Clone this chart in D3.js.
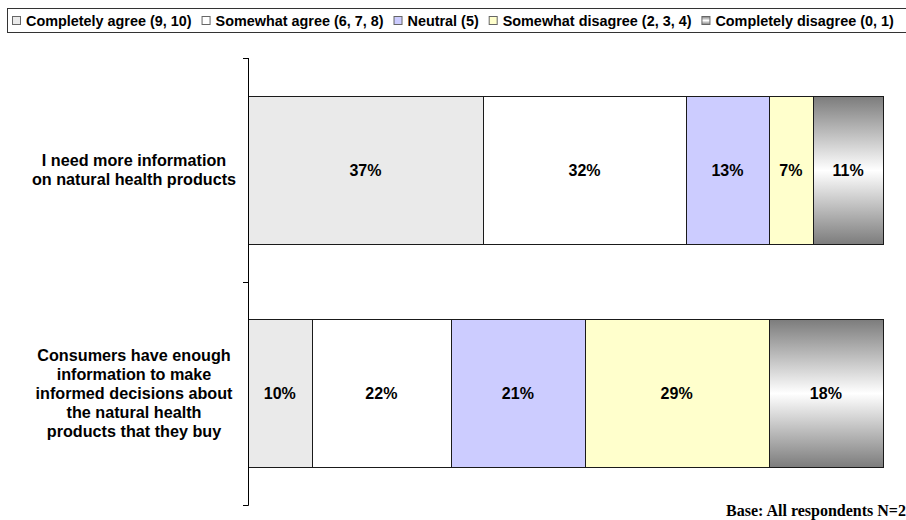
<!DOCTYPE html>
<html>
<head>
<meta charset="utf-8">
<script src="https://cdn.jsdelivr.net/npm/d3@7"></script>
<style>
  html, body { margin: 0; padding: 0; background: #fff; }
  svg { display: block; }
</style>
</head>
<body>
<svg id="chart" width="906" height="520"></svg>
<script>
// Survey statements (top to bottom) and their answer shares in percent
const statements = [
  ["I need more information", "on natural health products"],
  ["Consumers have enough", "information to make", "informed decisions about", "the natural health", "products that they buy"]
];
const statementKeys = ["more-info", "enough-info"];
const answerLabels = [
  "Completely agree (9, 10)",
  "Somewhat agree (6, 7, 8)",
  "Neutral (5)",
  "Somewhat disagree (2, 3, 4)",
  "Completely disagree (0, 1)"
];
const completelyAgree    = [37, 10];
const somewhatAgree      = [32, 22];
const neutral            = [13, 21];
const somewhatDisagree   = [7, 29];
const completelyDisagree = [11, 18];
const baseNote = "Base: All respondents N=2";

const seriesValues = [completelyAgree, somewhatAgree, neutral, somewhatDisagree, completelyDisagree];
const fills = ["#eaeaea", "#ffffff", "#ccccff", "#ffffcc", "url(#greyShade)"];

const svg = d3.select("#chart");
const font = "'Liberation Sans', Arial, Helvetica, sans-serif";

// metallic grey fill for the last answer group
const defs = svg.append("defs");
const grad = defs.append("linearGradient")
  .attr("id", "greyShade").attr("x1", 0).attr("y1", 0).attr("x2", 0).attr("y2", 1);
grad.append("stop").attr("offset", "0%").attr("stop-color", "#7c7c7c");
grad.append("stop").attr("offset", "50%").attr("stop-color", "#ffffff");
grad.append("stop").attr("offset", "100%").attr("stop-color", "#7c7c7c");

// stacked rows
const rows = statementKeys.map((k, i) => {
  const r = { key: k };
  answerLabels.forEach((a, j) => { r[a] = seriesValues[j][i]; });
  return r;
});
const stacked = d3.stack().keys(answerLabels)(rows);

const x = d3.scaleLinear().domain([0, 100]).range([248, 883]);
const y = d3.scaleBand().domain(statementKeys).range([58, 505])
  .paddingInner(0.338).paddingOuter(0.169);

// segments
const layer = svg.append("g").selectAll("g").data(stacked).join("g")
  .attr("fill", (d, i) => fills[i]);
layer.selectAll("rect").data(d => d).join("rect")
  .attr("x", d => Math.round(x(d[0])) + 0.5)
  .attr("y", d => Math.round(y(d.data.key)) + 0.5)
  .attr("width", d => Math.round(x(d[1])) - Math.round(x(d[0])))
  .attr("height", Math.round(y.bandwidth()))
  .attr("stroke", "#1a1a1a").attr("stroke-width", 1);

// value labels
layer.selectAll("text").data(d => d).join("text")
  .attr("x", d => (x(d[0]) + x(d[1])) / 2)
  .attr("y", d => y(d.data.key) + y.bandwidth() / 2)
  .attr("dy", "0.36em")
  .attr("text-anchor", "middle")
  .attr("fill", "#000")
  .attr("font-family", font).attr("font-weight", "bold").attr("font-size", 16)
  .text(d => (d[1] - d[0]) + "%");

// category axis with ticks between the rows
const axisG = svg.append("g").attr("stroke", "#000").attr("stroke-width", 1);
axisG.append("line").attr("x1", 248.5).attr("x2", 248.5).attr("y1", 58).attr("y2", 505.5);
const tickYs = [y.range()[0], (y(statementKeys[0]) + y.bandwidth() + y(statementKeys[1])) / 2, y.range()[1]];
axisG.selectAll("line.tick").data(tickYs).join("line").attr("class", "tick")
  .attr("x1", 243).attr("x2", 248.5)
  .attr("y1", d => Math.round(d) + 0.5).attr("y2", d => Math.round(d) + 0.5);

// statement labels
const lineH = 19;
svg.append("g").selectAll("text").data(statementKeys).join("text")
  .attr("text-anchor", "middle")
  .attr("font-family", font).attr("font-weight", "bold").attr("font-size", 16.2)
  .attr("fill", "#000")
  .each(function (k, i) {
    const lines = statements[i];
    const cy = y(k) + y.bandwidth() / 2;
    const top = cy - (lines.length - 1) * lineH / 2;
    d3.select(this).selectAll("tspan").data(lines).join("tspan")
      .attr("x", 134)
      .attr("y", (d, j) => top + j * lineH)
      .attr("dy", "0.36em")
      .text(d => d);
  });

// legend
svg.append("rect").attr("x", 7.5).attr("y", 8.5).attr("width", 920).attr("height", 24)
  .attr("fill", "#fff").attr("stroke", "#333");
const legend = svg.append("g");
let lx = 12;
answerLabels.forEach((a, i) => {
  legend.append("rect").attr("x", lx + 0.5).attr("y", 16.5).attr("width", 8).attr("height", 8)
    .attr("fill", fills[i]).attr("stroke", "#666");
  const t = legend.append("text").attr("x", lx + 14).attr("y", 25.5)
    .attr("font-family", font).attr("font-weight", "bold").attr("font-size", 14.4)
    .attr("fill", "#000").text(a);
  lx += 14 + t.node().getComputedTextLength() + 10;
});

// base note
svg.append("text").attr("x", 726).attr("y", 516)
  .attr("font-family", "'Liberation Serif', 'Times New Roman', serif")
  .attr("font-weight", "bold").attr("font-size", 16).attr("fill", "#000")
  .text(baseNote);
</script>
</body>
</html>
